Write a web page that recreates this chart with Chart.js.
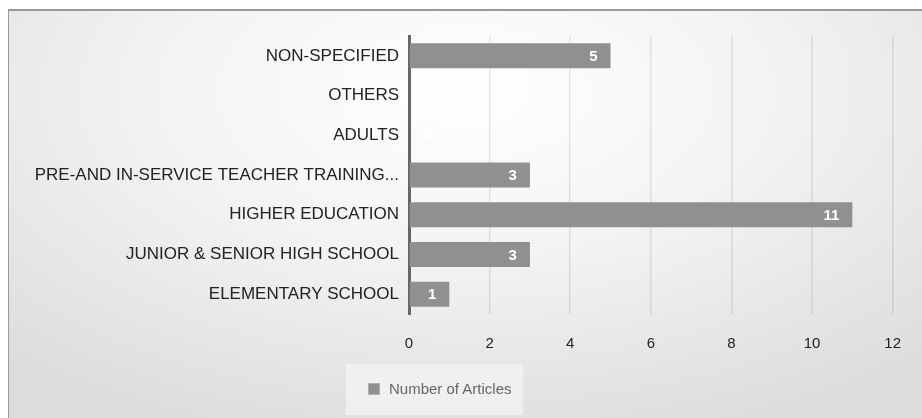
<!DOCTYPE html>
<html>
<head>
<meta charset="utf-8">
<script src="https://cdn.jsdelivr.net/npm/chart.js@4"></script>
<style>
  html, body { margin: 0; padding: 0; width: 922px; height: 418px; overflow: hidden; background: #fff; }
  #frame {
    position: absolute; left: 8px; top: 9px; width: 913px; height: 407px;
    border-top: 2px solid #9a9a9a; border-left: 1px solid #9a9a9a;
    background: radial-gradient(ellipse 75% 90% at 50% 20%, #ffffff 0%, #f3f3f3 45%, #dcdcdc 100%);
  }
  #wrap { position: absolute; left: 0; top: 0; width: 922px; height: 418px; }
  #legend {
    position: absolute; left: 346px; top: 364px; width: 177px; height: 51px;
    background: rgba(242, 242, 242, 0.8);
    font-family: "Liberation Sans", Arial, sans-serif; font-size: 15px; color: #666;
  }
  #legend .box {
    position: absolute; left: 22px; top: 19px; width: 10px; height: 10px;
    background: #8f908f; border: 1px solid #b0b0b0;
  }
  #legend .txt { position: absolute; left: 43px; top: 16px; white-space: nowrap; }
</style>
</head>
<body>
<div id="frame"></div>
<div id="wrap"><canvas id="barChart" width="922" height="418"></canvas></div>
<div id="legend"><span class="box"></span><span class="txt">Number of Articles</span></div>
<script>
const categorias = [
  'NON-SPECIFIED',
  'OTHERS',
  'ADULTS',
  'PRE-AND IN-SERVICE TEACHER TRAINING...',
  'HIGHER EDUCATION',
  'JUNIOR & SENIOR HIGH SCHOOL',
  'ELEMENTARY SCHOOL'
];
const artigos = [5, 0, 0, 3, 11, 3, 1];
const ticksX = [0, 2, 4, 6, 8, 10, 12];

/* rotulos brancos dentro da barra */
const rotulos = {
  id: 'rotulos',
  afterDatasetsDraw(chart) {
    const ctx = chart.ctx;
    const meta = chart.getDatasetMeta(0);
    const base = chart.scales.x.getPixelForValue(0);
    ctx.save();
    ctx.font = 'bold 15px "Liberation Sans", Arial, sans-serif';
    ctx.fillStyle = '#ffffff';
    ctx.textAlign = 'right';
    ctx.textBaseline = 'middle';
    meta.data.forEach((bar, i) => {
      const x = Math.max(bar.x - 13, base + 24);
      ctx.fillText(String(artigos[i]), x, bar.y + 1);
    });
    ctx.restore();
  }
};

document.addEventListener('DOMContentLoaded', () => {
  const ctx = document.getElementById('barChart').getContext('2d');

  new Chart(ctx, {
    type: 'bar',
    data: {
      labels: categorias,
      datasets: [{
        label: 'Number of Articles',
        data: artigos,
        backgroundColor: '#8f908f',
        borderWidth: 0,
        categoryPercentage: 0.63,
        barPercentage: 1
      }]
    },
    options: {
      indexAxis: 'y',
      responsive: false,
      animation: false,
      layout: { padding: { top: 36, right: 29, left: 0, bottom: 0 } },
      scales: {
        x: {
          min: 0,
          max: 12,
          afterFit: s => { s.height = 104; },
          afterBuildTicks: s => { s.ticks = ticksX.map(v => ({value: v})); },
          grid: { color: 'rgba(0,0,0,0.09)', lineWidth: 1.5, drawTicks: false },
          border: { display: false },
          ticks: {
            padding: 21,
            color: '#222',
            font: { family: '"Liberation Sans", Arial, sans-serif', size: 15 }
          }
        },
        y: {
          afterFit: s => { s.width = 409; },
          grid: { display: false },
          border: { display: true, color: '#666', width: 3 },
          ticks: {
            padding: 2,
            color: '#222',
            font: { family: '"Liberation Sans", Arial, sans-serif', size: 17 }
          }
        }
      },
      plugins: {
        legend: { display: false },
        tooltip: { enabled: false }
      }
    },
    plugins: [rotulos]
  });
});
</script>
</body>
</html>
